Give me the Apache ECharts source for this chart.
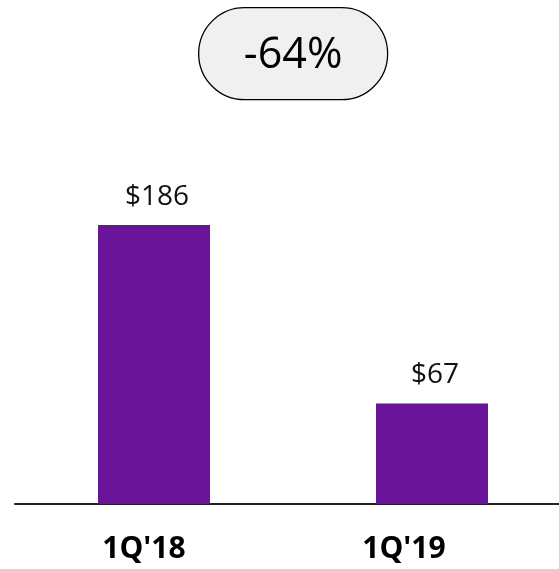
<!DOCTYPE html>
<html>
<head>
<meta charset="utf-8">
<script src="https://cdn.jsdelivr.net/npm/echarts@6/dist/echarts.min.js"></script>
<style>
html,body{margin:0;padding:0;background:#fff;overflow:hidden;width:559px;height:569px;}
#chart{width:571px;height:569px;}
</style>
</head>
<body>
<div id="chart"></div>
<script>
const categories = ["1Q'18", "1Q'19"];
const values = [186, 67];
const valueLabels = ["$186", "$67"];
const changeText = "-64%";

const chart = echarts.init(document.getElementById('chart'), null, {renderer: 'canvas'});
const FONT = '"Open Sans", "Noto Sans", sans-serif';

chart.setOption({
  animation: false,
  backgroundColor: '#ffffff',
  grid: {left: 15, top: 204, right: 0, bottom: 65, containLabel: false},
  xAxis: {
    type: 'category',
    data: categories,
    axisLine: {show: true, lineStyle: {color: '#222222', width: 2}},
    axisTick: {show: false},
    axisLabel: {
      margin: 30,
      formatter: function (v, i) { return '{r' + i + '|' + v + '}'; },
      rich: {
        r0: {fontFamily: FONT, fontSize: 30, fontWeight: 'bold', color: '#000', padding: [0, 20, 0, 0]},
        r1: {fontFamily: FONT, fontSize: 30, fontWeight: 'bold', color: '#000', padding: [0, 56, 0, 0]}
      }
    }
  },
  yAxis: {
    type: 'value', min: 0, max: 200,
    show: false, splitLine: {show: false}
  },
  series: [{
    type: 'bar',
    data: values,
    barWidth: 112,
    itemStyle: {color: '#6a1599'},
    label: {
      show: true,
      position: 'top',
      distance: 14,
      offset: [3, 0],
      fontFamily: FONT,
      fontSize: 28,
      color: '#111',
      formatter: function (p) { return valueLabels[p.dataIndex]; }
    }
  }],
  graphic: [{
    type: 'group',
    left: 198,
    top: 7,
    children: [{
      type: 'rect',
      shape: {x: 0, y: 0, width: 189, height: 92, r: 46},
      style: {fill: '#f0f0f0', stroke: '#000', lineWidth: 1.3}
    }, {
      type: 'text',
      x: 94.5, y: 48,
      style: {text: changeText, fontFamily: FONT, fontSize: 43, fill: '#000', align: 'center', verticalAlign: 'middle'}
    }]
  }]
});
</script>
</body>
</html>
